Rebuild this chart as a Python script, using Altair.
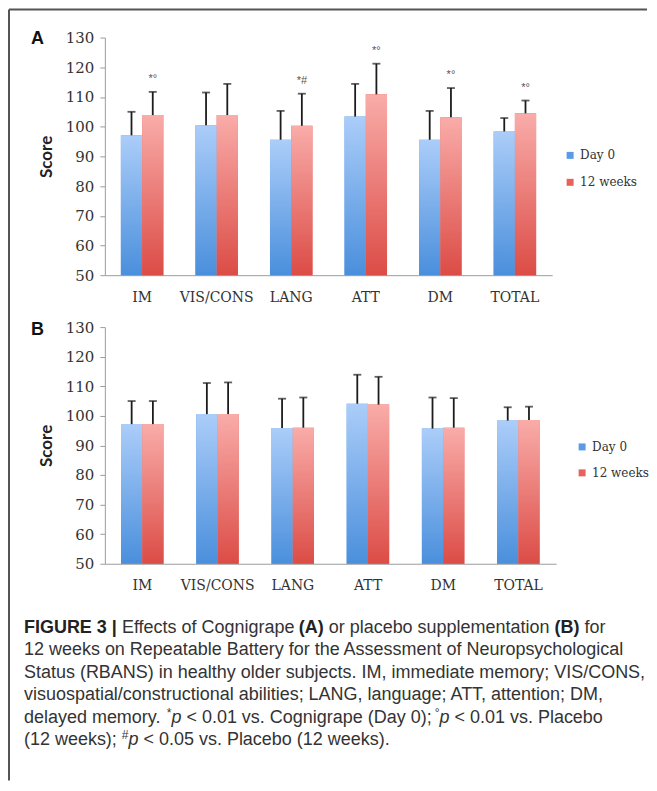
import altair as alt
import pandas as pd

categories = ["IM", "VIS/CONS", "LANG", "ATT", "DM", "TOTAL"]
series = ["Day 0", "12 weeks"]

# Panel A (Cognigrape)
a_day0 = [97.1, 100.5, 95.6, 103.4, 95.6, 98.4]
a_day0_sd = [7.9, 11.0, 9.7, 11.0, 9.7, 4.5]
a_w12 = [103.9, 103.9, 100.3, 110.9, 103.2, 104.5]
a_w12_sd = [7.8, 10.5, 10.8, 10.3, 9.8, 4.3]
a_notes = ["*°", "", "*#", "*°", "*°", "*°"]

# Panel B (placebo)
b_day0 = [97.2, 100.6, 95.9, 104.1, 95.7, 98.4]
b_day0_sd = [7.8, 10.5, 9.9, 9.8, 10.5, 4.5]
b_w12 = [97.2, 100.6, 96.0, 103.8, 96.0, 98.6]
b_w12_sd = [7.8, 10.7, 10.2, 9.4, 10.0, 4.5]
b_notes = ["", "", "", "", "", ""]

# caption: each line is a list of (text, style) runs
caption = [
    [("FIGURE 3 |", "b"), (" Effects of Cognigrape ", "n"), ("(A)", "b"),
     (" or placebo supplementation ", "n"), ("(B)", "b"), (" for", "n")],
    [("12 weeks on Repeatable Battery for the Assessment of Neuropsychological", "n")],
    [("Status (RBANS) in healthy older subjects. IM, immediate memory; VIS/CONS,", "n")],
    [("visuospatial/constructional abilities; LANG, language; ATT, attention; DM,", "n")],
    [("delayed memory. ", "n"), ("*", "s"), ("p", "i"),
     (" < 0.01 vs. Cognigrape (Day 0); ", "n"), ("°", "s"), ("p", "i"),
     (" < 0.01 vs. Placebo", "n")],
    [("(12 weeks); ", "n"), ("#", "s"), ("p", "i"),
     (" < 0.05 vs. Placebo (12 weeks).", "n")],
]

BLUE = "#5b9be6"
RED = "#e8625d"
blue_grad = alt.Gradient(gradient="linear", x1=0, x2=0, y1=0, y2=1,
                         stops=[alt.GradientStop(color="#abcdf9", offset=0),
                                alt.GradientStop(color="#4a8fdc", offset=1)])
red_grad = alt.Gradient(gradient="linear", x1=0, x2=0, y1=0, y2=1,
                        stops=[alt.GradientStop(color="#f9aca9", offset=0),
                               alt.GradientStop(color="#dc4c46", offset=1)])

SERIF = "DejaVu Serif"
SANS = "Liberation Sans"
one = pd.DataFrame({"k": [0]})

# Arial / Liberation Sans advance widths (1/1000 em) for laying out caption runs
_W = {" ": 278, "(": 333, ")": 333, "*": 389, ".": 278, ",": 278, ";": 278, "<": 584,
      "°": 400, "#": 556, "|": 260, "/": 278,
      "a": 556, "b": 556, "c": 500, "d": 556, "e": 556, "f": 278, "g": 556, "h": 556,
      "i": 222, "j": 222, "k": 500, "l": 222, "m": 833, "n": 556, "o": 556, "p": 556,
      "q": 556, "r": 333, "s": 500, "t": 278, "u": 556, "v": 500, "w": 722, "x": 500,
      "y": 500, "z": 500}
_WB = {" ": 278, "(": 333, ")": 333, "|": 280, "A": 722, "B": 722, "E": 667, "F": 611,
       "G": 778, "I": 278, "R": 722, "U": 722}


def text_width(s, size, bold=False):
    tot = 0
    for ch in s:
        if bold:
            tot += _WB.get(ch, 556)
        else:
            tot += _W.get(ch, 556 if (ch.isdigit() or ch.islower()) else 667)
    return tot * size / 1000.0


def make_df(d0, d0sd, w12, w12sd, notes):
    rows = []
    for i, c in enumerate(categories):
        rows.append({"cat": c, "series": series[0], "value": d0[i],
                     "upper": d0[i] + d0sd[i], "note": ""})
        rows.append({"cat": c, "series": series[1], "value": w12[i],
                     "upper": w12[i] + w12sd[i], "note": notes[i]})
    return pd.DataFrame(rows)


def yenc(field):
    return alt.Y(field, type="quantitative",
                 scale=alt.Scale(domain=[50, 130], nice=False, zero=False),
                 axis=alt.Axis(values=list(range(50, 131, 10)), title="Score",
                               grid=False, domainColor="#9c9c9c", tickColor="#9c9c9c",
                               tickSize=5, labelFont=SERIF, labelFontSize=15,
                               labelColor="#333", labelPadding=6,
                               titleFont="Lato", titleFontSize=17, titleFontWeight="bold",
                               titleColor="#222", titlePadding=10))


def caption_layers(x0, y0, step, size):
    out = []
    for li, runs in enumerate(caption):
        x = x0
        y = y0 + step * li
        for txt, st in runs:
            w = text_width(txt, 12 if st == "s" else size, bold=(st == "b"))
            lead = len(txt) - len(txt.lstrip(" "))
            xs = x + text_width(" " * lead, size)
            props = dict(text=txt.strip(" "), font=SANS, align="left", baseline="middle",
                         color="#333")
            if st == "b":
                props.update(fontWeight="bold", fontSize=size, color="#222")
                yy = y
            elif st == "s":
                props.update(fontSize=12)
                yy = y - 5
            elif st == "i":
                props.update(fontStyle="italic", fontSize=size)
                yy = y
            else:
                props.update(fontSize=size)
                yy = y
            out.append(alt.Chart(one).mark_text(**props).encode(
                x=alt.value(round(xs, 1)), y=alt.value(round(yy, 1))))
            x += w
    return out


def panel(df, letter, width, height, leg_x, leg_y, row_pad, letter_y, line_top,
          line_bottom, top_line=False, with_caption=False):
    x = alt.X("cat:N", sort=categories,
              scale=alt.Scale(paddingInner=0.43, paddingOuter=0.215),
              axis=alt.Axis(title=None, labelAngle=0, ticks=False, domainColor="#9c9c9c",
                            labelFont=SERIF, labelFontSize=14, labelColor="#333",
                            labelPadding=15))
    xo = alt.XOffset("series:N", sort=series,
                     scale=alt.Scale(domain=series, paddingInner=0, paddingOuter=0))
    base = alt.Chart(df).encode(x=x, xOffset=xo)

    solid = base.mark_bar().encode(
        y=yenc("value"), y2=alt.datum(50),
        color=alt.Color("series:N", scale=alt.Scale(domain=series, range=[BLUE, RED]),
                        legend=alt.Legend(title=None, orient="none", legendX=leg_x,
                                          legendY=leg_y, symbolType="square",
                                          symbolSize=49, labelFont=SERIF,
                                          labelFontSize=12, labelColor="#333",
                                          rowPadding=row_pad, labelOffset=4)))
    g1 = base.transform_filter(alt.datum.series == series[0]).mark_bar(
        fill=blue_grad).encode(y=yenc("value"), y2=alt.datum(50))
    g2 = base.transform_filter(alt.datum.series == series[1]).mark_bar(
        fill=red_grad).encode(y=yenc("value"), y2=alt.datum(50))
    rule = base.mark_rule(color="#1c1c1c", strokeWidth=1.8).encode(
        y=yenc("value"), y2="upper:Q")
    cap = base.mark_tick(color="#1c1c1c", thickness=1.8, size=8).encode(
        y=yenc("upper"))
    notes = base.mark_text(dy=-13, fontSize=11, color="#555", font=SANS).encode(
        y=yenc("upper"), text="note:N")

    layers = [solid, g1, g2, rule, cap, notes]

    layers.append(alt.Chart(one).mark_text(text=letter, font=SANS, fontSize=18,
                                           fontWeight="bold", align="left",
                                           baseline="alphabetic", color="#111").encode(
        x=alt.value(-74), y=alt.value(letter_y)))
    layers.append(alt.Chart(one).mark_rule(color="#555", strokeWidth=2).encode(
        x=alt.value(-96), y=alt.value(line_top), y2=alt.value(line_bottom)))
    if top_line:
        layers.append(alt.Chart(one).mark_rule(color="#555", strokeWidth=2).encode(
            x=alt.value(-96), x2=alt.value(543), y=alt.value(-28)))
    if with_caption:
        layers.extend(caption_layers(-81, 301, 22.6, 18))
    return alt.layer(*layers).properties(width=width, height=height)


pa = panel(make_df(a_day0, a_day0_sd, a_w12, a_w12_sd, a_notes), "A", 448, 238,
           460, 112, 15, 6, -28, 300, top_line=True)
pb = panel(make_df(b_day0, b_day0_sd, b_w12, b_w12_sd, b_notes), "B", 452, 237,
           472, 114, 14, 8, -40, 454, with_caption=True)

chart = alt.vconcat(pa, pb, spacing=52, bounds="flush").resolve_scale(
    color="independent", x="independent", y="independent").resolve_legend(
    color="independent").properties(padding=0).configure_view(stroke=None)

chart.save("out.html", embed_options={"renderer": "svg", "actions": False})
